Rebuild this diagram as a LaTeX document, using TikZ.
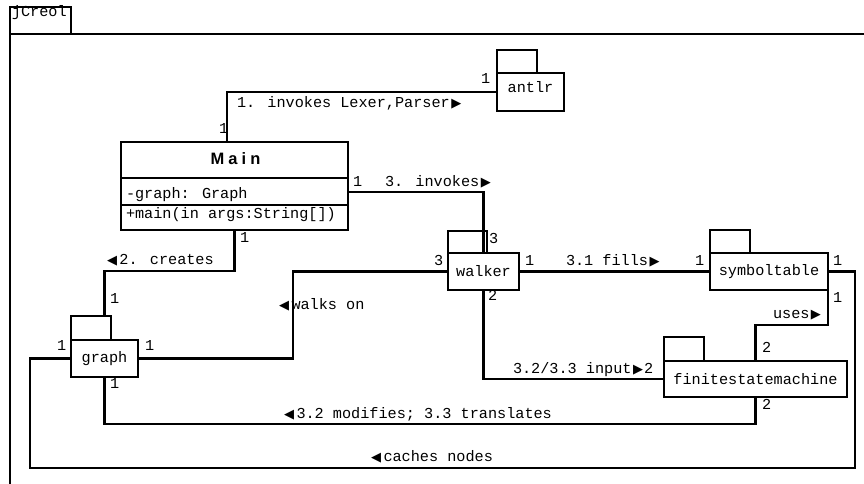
\documentclass[tikz,border=0pt]{standalone}
\usepackage{fontspec}
\setmainfont{Liberation Mono}
\newfontfamily\lblfont{Liberation Mono}
\newfontfamily\titlefont[LetterSpace=25]{Liberation Sans}
\newfontfamily\symfont{DejaVu Sans}
\newcommand{\rtri}{\kern1.5pt{\symfont\fontsize{13}{15}\selectfont ▶}}
\newcommand{\ltri}{{\symfont\fontsize{13}{15}\selectfont ◀}\kern2.5pt}
\begin{document}
\begin{tikzpicture}[x=1pt,y=-1pt,
  every node/.style={inner sep=0pt, outer sep=0pt},
  box/.style={draw, line width=2.8pt, rectangle, inner sep=0pt,
    font=\lblfont\fontsize{15.2}{18}\selectfont},
  tabbox/.style={draw, line width=2.8pt, rectangle, inner sep=0pt, anchor=south west},
  conn/.style={line width=2.4pt},
  lbl/.style={font=\lblfont\fontsize{15.2}{18}\selectfont, anchor=base west, inner sep=0pt},
]
\useasboundingbox (0,0) rectangle (864,484);
\clip (0,0) rectangle (864,484);

% package frame (runs past the visible area on the right and bottom)
\node[box, anchor=north west, minimum width=61, minimum height=27] (pkgtab) at (10,7) {};
\node[lbl] (pkgname) at (12,17) {jCreol};
\node[box, anchor=north west, minimum width=900, minimum height=520] (pkg) at (10,34) {};

% packages
\node[box, anchor=north west, minimum width=67, minimum height=38] (antlr) at (497,73) {};
\node[lbl, anchor=base] (antlrname) at ([yshift=-20]antlr.north) {antlr};
\node[tabbox, minimum width=40, minimum height=23] (antlrtab) at (antlr.north west) {};

\node[box, anchor=north west, minimum width=71, minimum height=37] (walker) at (448,253) {walker};
\node[tabbox, minimum width=39, minimum height=22] (walkertab) at (walker.north west) {};

\node[box, anchor=north west, minimum width=118, minimum height=37] (symbols) at (710,253) {symboltable};
\node[tabbox, minimum width=40, minimum height=23] (symbolstab) at (symbols.north west) {};

\node[box, anchor=north west, minimum width=183, minimum height=36] (fsm) at (664,361) {finitestatemachine};
\node[tabbox, minimum width=40, minimum height=24] (fsmtab) at (fsm.north west) {};

\node[box, anchor=north west, minimum width=67, minimum height=37] (graph) at (71,340) {graph};
\node[tabbox, minimum width=40, minimum height=24] (graphtab) at (graph.north west) {};

% class Main
\node[box, anchor=north west, minimum width=227, minimum height=88] (Main) at (121,142) {};
\draw[line width=2.8pt] (Main.north west |- 0,178) -- (Main.north east |- 0,178);
\draw[line width=2.8pt] (Main.north west |- 0,205) -- (Main.north east |- 0,205);
\node[font=\titlefont\bfseries\fontsize{16.5}{19}\selectfont, anchor=base] (maintitle) at ([xshift=1]Main.north |- 0,164) {Main};
\node[lbl] (mainattr) at (126,198) {-graph: Graph};
\node[lbl] (mainop) at (126,218) {+main(in args:String[])};

% connectors
\draw[conn] (antlr.west) -| ([xshift=-7.5]Main.north);
\draw[conn] ([yshift=-6]Main.east) -| (walker.north);
\draw[conn] (Main.south) |- (graph.north |- 0,271) -- (graph.north |- graphtab.north);
\draw[conn] (walker.west) -| (graph.east -| 293,0) -- (graph.east);
\draw[conn] (walker.east) -- (symbols.west);
\draw[conn] (symbols.east) -| (855,468) -| (graph.west -| 30,0) -- (graph.west);
\draw[conn] (symbols.south east) |- (fsm.north |- 0,325) -- (fsm.north);
\draw[conn] (walker.south) |- (fsm.west);
\draw[conn] (fsm.south) |- (graph.south |- 0,424) -- (graph.south);

% multiplicities and role labels
\node[lbl] (m1) at (481,84) {1};
\node[lbl] (m2) at (219,133) {1};
\node[lbl] (invlex) at (237,108) {1. invokes Lexer,Parser\rtri};
\node[lbl] (m3) at (353,186) {1};
\node[lbl] (inv) at (385,186) {3. invokes\rtri};
\node[lbl] (m4) at (489,243) {3};
\node[lbl] (m5) at (434,265) {3};
\node[lbl] (m6) at (525,265) {1};
\node[lbl] (fills) at (566,265) {3.1 fills\rtri};
\node[lbl] (m7) at (695,265) {1};
\node[lbl] (m8) at (833,265) {1};
\node[lbl] (m9) at (488,300) {2};
\node[lbl] (m10) at (833,302) {1};
\node[lbl] (uses) at (773,318) {uses\rtri};
\node[lbl] (m11) at (762,352) {2};
\node[lbl] (input) at (513,373) {3.2/3.3 input\rtri\kern1pt 2};
\node[lbl] (m12) at (762,409) {2};
\node[lbl] (modif) at (284,418) {\ltri 3.2 modifies; 3.3 translates};
\node[lbl] (caches) at (371,461) {\ltri caches nodes};
\node[lbl] (walks) at (279,309) {\ltri walks on};
\node[lbl] (creates) at (107,264) {\ltri 2. creates};
\node[lbl] (m13) at (240,242) {1};
\node[lbl] (m14) at (110,303) {1};
\node[lbl] (m15) at (57,350) {1};
\node[lbl] (m16) at (145,350) {1};
\node[lbl] (m17) at (110,388) {1};
\end{tikzpicture}
\end{document}
